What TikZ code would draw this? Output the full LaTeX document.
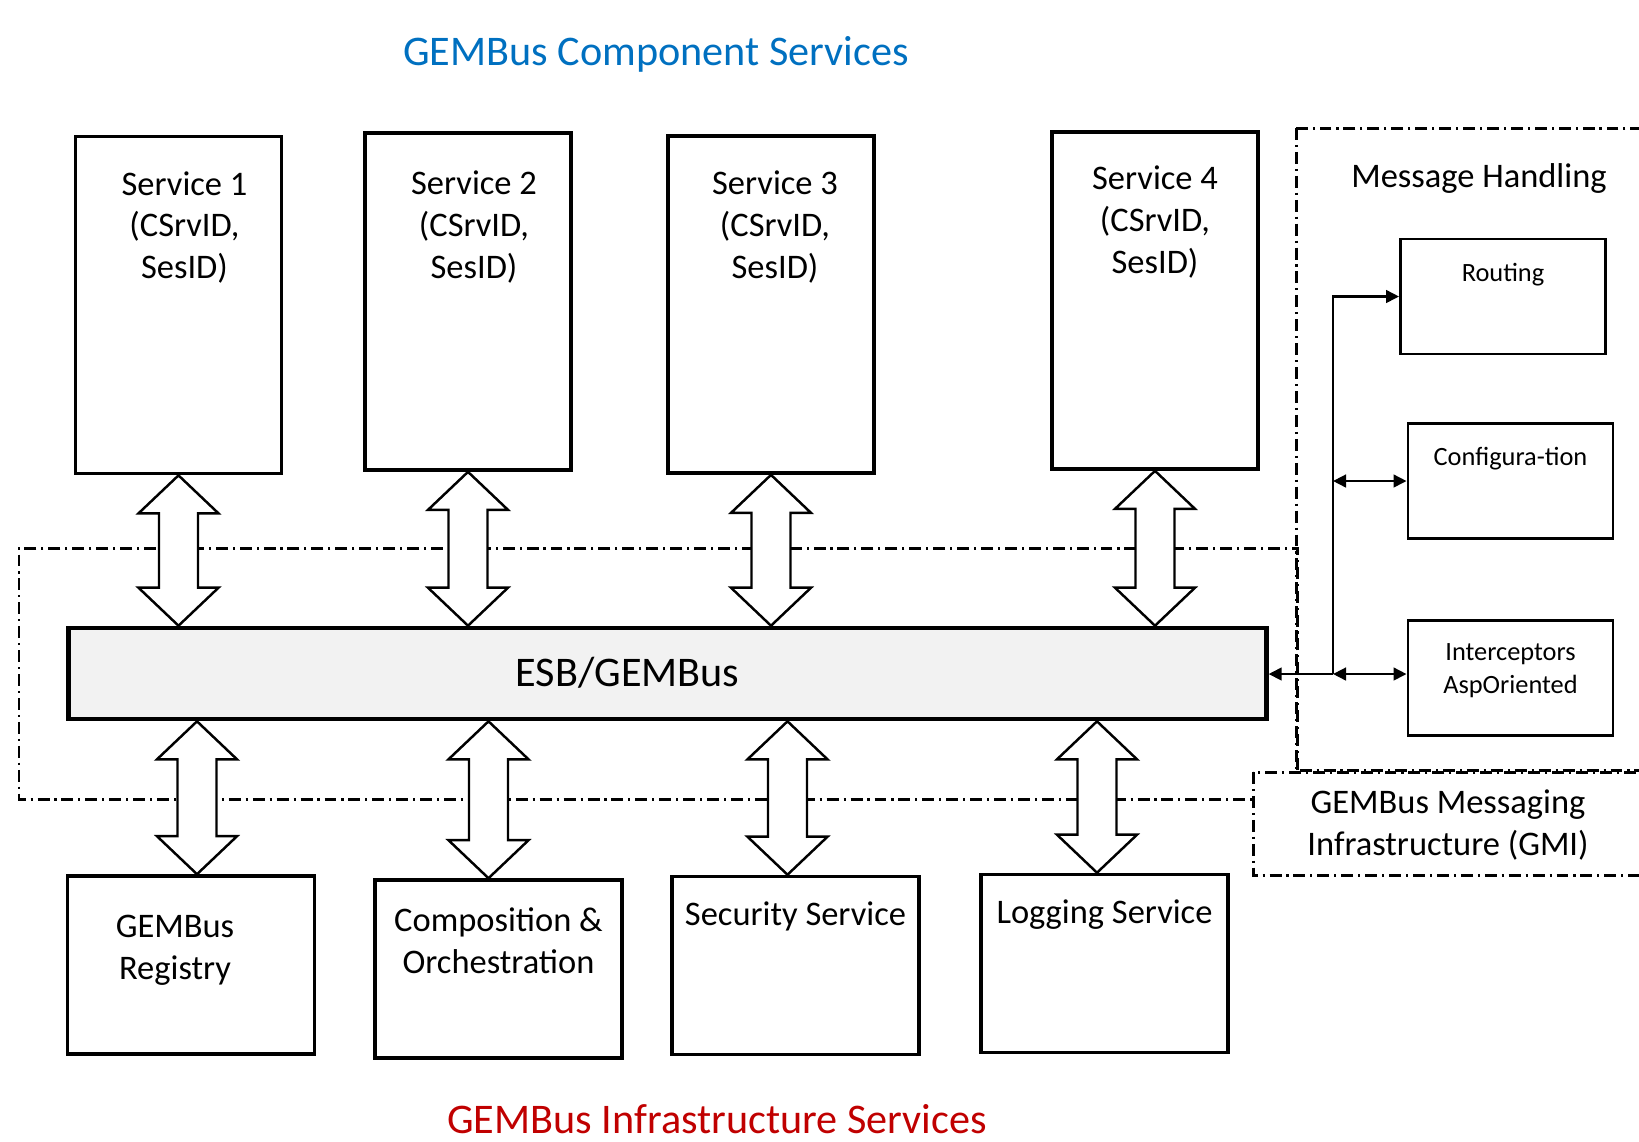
\documentclass[tikz,border=0pt]{standalone}
\usepackage{fontspec}
\setmainfont{Carlito}
\usetikzlibrary{positioning, calc, arrows.meta}
\tikzset{>={Triangle[length=3.7pt,width=3.6pt]}}
\definecolor{titleblue}{HTML}{0070C0}
\definecolor{titlered}{HTML}{C00000}
\definecolor{busgray}{HTML}{F2F2F2}

\newcommand{\dblarrow}[2]{%
  \draw[blockarrow] (#1) -- ++(40,38) -- ++(-20.5,0) -- ($(#2)+(19.5,-38)$)
    -- ++(20.5,0) -- (#2) -- ++(-40,-38) -- ++(20.5,0)
    -- ($(#1)+(-19.5,38)$) -- ++(-20.5,0) -- cycle;}

\begin{document}
\begin{tikzpicture}[x=0.01cm, y=-0.01cm,
    svcbox/.style={draw, line width=1pt, minimum width=2.06cm, minimum height=3.37cm},
    infbox/.style={draw, line width=1pt, minimum width=2.47cm, minimum height=1.78cm},
    mhbox/.style={draw, line width=0.8pt, minimum width=2.05cm, minimum height=1.15cm},
    boxtext/.style={font=\fontsize{9.8}{11.9}\selectfont, align=center, inner sep=0pt},
    smalltext/.style={font=\fontsize{7.5}{9.4}\selectfont, align=center, inner sep=0pt},
    titletext/.style={font=\fontsize{12}{14}\selectfont, inner sep=0pt},
    blockarrow/.style={draw, fill=white, line width=0.7pt, line join=miter},
    gmiline/.style={line width=0.85pt, dash pattern=on 3.4pt off 1.4pt on 0.6pt off 1.4pt},
    conn/.style={line width=0.7pt}]
     \clip (0,0) rectangle (1639,1141);

     \node[titletext, text=titleblue] (ctitle) at (656,54) {GEMBus Component Services};
     \node[titletext, text=titlered] (ititle) at (717,1119) {GEMBus Infrastructure Services};

     \draw[gmiline] (1297,770) -- (1297,548) -- (19,548) -- (19,799) -- (1253,799);
     \draw[gmiline] (1296,128) rectangle (1700,770);
     \draw[gmiline] (1253,772) rectangle (1700,875);
     \node[boxtext] (mhl) at (1479,178) {Message Handling};
     \node[boxtext] (gmil) at (1448,825) {GEMBus Messaging\\Infrastructure (GMI)};

     \node[svcbox] (s1) at (178.5,305) {};
     \node[svcbox] (s2) at (468,301.5) {};
     \node[svcbox] (s3) at (771,304.5) {};
     \node[svcbox] (s4) at (1155,300.5) {};
     \node[boxtext, below=0.36cm of s1.north, xshift=0.06cm] (s1l) {Service 1\\(CSrvID,\\SesID)};
     \node[boxtext, below=0.39cm of s2.north, xshift=0.06cm] (s2l) {Service 2\\(CSrvID,\\SesID)};
     \node[boxtext, below=0.36cm of s3.north, xshift=0.04cm] (s3l) {Service 3\\(CSrvID,\\SesID)};
     \node[boxtext, below=0.35cm of s4.north] (s4l) {Service 4\\(CSrvID,\\SesID)};

     \node[draw, line width=1.3pt, fill=busgray, minimum width=11.97cm, minimum height=0.91cm] (esb) at (667.5,673.5) {};
     \node[titletext] (esbl) at ($(esb.center)+(-40,-1)$) {ESB/GEMBus};

     \node[infbox] (reg) at (191,965) {};
     \node[infbox] (comp) at (498.5,969) {};
     \node[infbox] (sec) at (795.5,965.5) {};
     \node[infbox] (log) at (1104.5,963.5) {};
     \node[boxtext, below=0.40cm of reg.north, xshift=-0.16cm] (regl) {GEMBus\\Registry};
     \node[boxtext, below=0.29cm of comp.north] (compl) {Composition \&\\Orchestration};
     \node[boxtext, below=0.26cm of sec.north] (secl) {Security Service};
     \node[boxtext, below=0.26cm of log.north] (logl) {Logging Service};

     \coordinate (b1) at ($(reg.north)+(6,0)$);
     \coordinate (b2) at ($(comp.north)+(-10,0)$);
     \coordinate (b3) at ($(sec.north)+(-8,0)$);
     \coordinate (b4) at ($(log.north)+(-7.5,0)$);

     \dblarrow{s1.south}{s1.south |- esb.north}
     \dblarrow{s2.south}{s2.south |- esb.north}
     \dblarrow{s3.south}{s3.south |- esb.north}
     \dblarrow{s4.south}{s4.south |- esb.north}
     \dblarrow{b1 |- esb.south}{b1}
     \dblarrow{b2 |- esb.south}{b2}
     \dblarrow{b3 |- esb.south}{b3}
     \dblarrow{b4 |- esb.south}{b4}

     \node[mhbox] (rout) at (1503,296.5) {};
     \node[mhbox] (cfg) at (1510.5,481) {};
     \node[mhbox] (icp) at (1510.5,678) {};
     \node[smalltext, below=0.25cm of rout.north] (routl) {Routing};
     \node[smalltext, below=0.24cm of cfg.north] (cfgl) {Configura-tion};
     \node[smalltext, below=0.24cm of icp.north] (icpl) {Interceptors\\AspOriented};

     \coordinate (jn) at (1333,674);
     \draw[conn, ->] (jn) |- (rout.west);
     \draw[conn, ->] (jn) -- (jn -| esb.east);
     \draw[conn, <->] (jn |- cfg.west) -- (cfg.west);
     \draw[conn, <->] (jn) -- (jn -| icp.west);
\end{tikzpicture}
\end{document}
